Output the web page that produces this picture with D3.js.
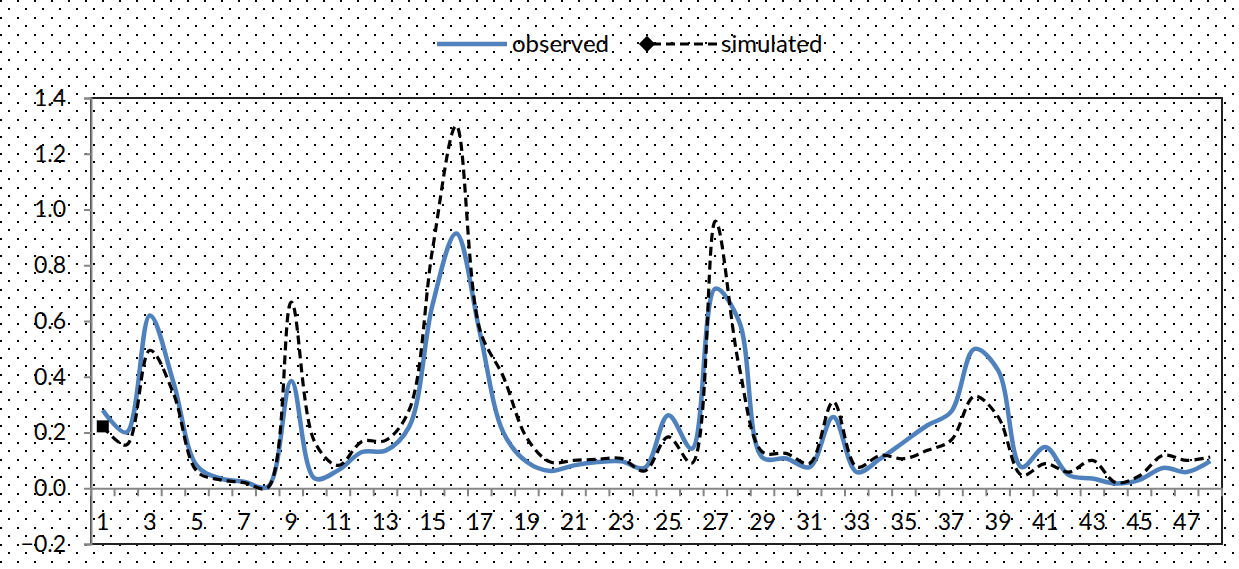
<!DOCTYPE html>
<html>
<head>
<meta charset="utf-8">
<script src="https://cdn.jsdelivr.net/npm/d3@7"></script>
<style>
  html, body { margin: 0; padding: 0; background: #fff; }
  svg { display: block; }
  text { font-family: Lato, "Open Sans", sans-serif; fill: #000; }
</style>
</head>
<body>
<svg id="chart" width="1239" height="569"></svg>
<script>
// ---- data ----
const categories = [1,2,3,4,5,6,7,8,9,10,11,12,13,14,15,16,17,18,19,20,21,22,23,24,
                    25,26,27,28,29,30,31,32,33,34,35,36,37,38,39,40,41,42,43,44,45,46,47,48];
const observed = [0.28,0.20,0.62,0.38,0.08,0.035,0.023,0.005,0.385,0.035,0.065,0.13,0.135,0.22,0.66,0.914,
                  0.56,0.20,0.094,0.062,0.082,0.094,0.097,0.073,0.262,0.142,0.716,0.60,0.11,0.107,0.076,0.256,
                  0.058,0.106,0.166,0.226,0.274,0.50,0.423,0.076,0.148,0.047,0.035,0.017,0.03,0.073,0.058,0.097];
const simulated = [0.222,0.155,0.495,0.34,0.06,0.03,0.02,0.002,0.668,0.165,0.082,0.168,0.172,0.28,0.86,1.30,
                   0.57,0.40,0.18,0.094,0.10,0.104,0.107,0.062,0.184,0.09,0.958,0.44,0.13,0.125,0.09,0.31,
                   0.076,0.118,0.106,0.136,0.172,0.33,0.256,0.047,0.088,0.058,0.10,0.02,0.045,0.118,0.10,0.112];
const yTicks = [-0.2,0.0,0.2,0.4,0.6,0.8,1.0,1.2,1.4];
const xTickLabels = [1,3,5,7,9,11,13,15,17,19,21,23,25,27,29,31,33,35,37,39,41,43,45,47];
const seriesNames = ["observed", "simulated"];

// ---- layout ----
const svg = d3.select("#chart");
const W = 1239, H = 569;
const plot = { left: 91, right: 1222, top: 98, bottom: 544 };
const FS = 23;

const defs = svg.append("defs");
const pat = defs.append("pattern")
  .attr("id", "dots").attr("patternUnits", "userSpaceOnUse")
  .attr("width", 17).attr("height", 17);
pat.append("rect").attr("x", 0).attr("y", 0).attr("width", 2).attr("height", 2).attr("fill", "#000");
pat.append("rect").attr("x", 8).attr("y", 8).attr("width", 2).attr("height", 2).attr("fill", "#000");

svg.append("rect").attr("width", W).attr("height", H).attr("fill", "#fff");
svg.append("rect").attr("width", W).attr("height", H).attr("fill", "url(#dots)");

const x = d3.scaleBand().domain(categories).range([plot.left, plot.right]).padding(0);
const y = d3.scaleLinear().domain([-0.2, 1.4]).range([plot.bottom, plot.top]);
const cx = d => x(d) + x.bandwidth() / 2;

// plot area
svg.append("rect")
  .attr("x", plot.left).attr("y", plot.top)
  .attr("width", plot.right - plot.left).attr("height", plot.bottom - plot.top)
  .attr("fill", "#fff");
svg.append("rect")
  .attr("x", plot.left).attr("y", plot.top)
  .attr("width", plot.right - plot.left).attr("height", plot.bottom - plot.top)
  .attr("fill", "url(#dots)")
  .attr("stroke", "#222").attr("stroke-width", 2);

// y axis
const yAxis = d3.axisLeft(y).tickValues(yTicks).tickFormat(d3.format(".1f")).tickSize(7).tickPadding(18);
const gy = svg.append("g").attr("transform", `translate(${plot.left},0)`).call(yAxis);
gy.select(".domain").attr("stroke", "#868686").attr("stroke-width", 2);
gy.selectAll(".tick line").attr("stroke", "#868686").attr("stroke-width", 2);
gy.selectAll(".tick text").attr("font-size", FS).attr("font-family", "Lato, sans-serif").attr("fill", "#000");

// x axis at y=0
const xAxis = d3.axisBottom(x).tickSize(0).tickFormat(d => xTickLabels.includes(d) ? d : "");
const gx = svg.append("g").attr("transform", `translate(0,${y(0)})`).call(xAxis);
gx.select(".domain").attr("stroke", "#868686").attr("stroke-width", 2);
gx.selectAll(".tick text").attr("font-size", FS).attr("font-family", "Lato, sans-serif")
  .attr("fill", "#000").attr("dy", 0).attr("y", 42);
// boundary tick marks
const bounds = categories.map(c => x(c)).concat([plot.right]);
svg.append("g").selectAll("line").data(bounds).join("line")
  .attr("x1", d => d).attr("x2", d => d)
  .attr("y1", y(0)).attr("y2", y(0) + 8)
  .attr("stroke", "#868686").attr("stroke-width", 2);

// lines
const curve = d3.curveCatmullRom.alpha(0.5);
const lineGen = d3.line().x((d, i) => cx(categories[i])).y(d => y(d)).curve(curve);

svg.append("path").datum(observed)
  .attr("d", lineGen).attr("fill", "none")
  .attr("stroke", "#4F81BD").attr("stroke-width", 4.5).attr("stroke-linejoin", "round");

svg.append("path").datum(simulated)
  .attr("d", lineGen).attr("fill", "none")
  .attr("stroke", "#000").attr("stroke-width", 3.2).attr("stroke-dasharray", "9,5");

// first-point marker on simulated
svg.append("rect")
  .attr("x", cx(categories[0]) - 6).attr("y", y(simulated[0]) - 6)
  .attr("width", 12).attr("height", 12).attr("fill", "#000");

// legend
const lg = svg.append("g");
lg.append("line").attr("x1", 437).attr("x2", 507).attr("y1", 44).attr("y2", 44)
  .attr("stroke", "#4F81BD").attr("stroke-width", 4.5);
lg.append("text").attr("x", 512).attr("y", 52).attr("font-size", FS + 1).text(seriesNames[0]);
lg.append("line").attr("x1", 652).attr("x2", 718).attr("y1", 44).attr("y2", 44)
  .attr("stroke", "#000").attr("stroke-width", 3.2).attr("stroke-dasharray", "9,5");
lg.append("path").attr("d", d3.symbol(d3.symbolDiamond2, 170)()).attr("transform", "translate(647,44)")
  .attr("fill", "#000");
lg.append("text").attr("x", 721).attr("y", 52).attr("font-size", FS + 1).text(seriesNames[1]);
</script>
</body>
</html>
